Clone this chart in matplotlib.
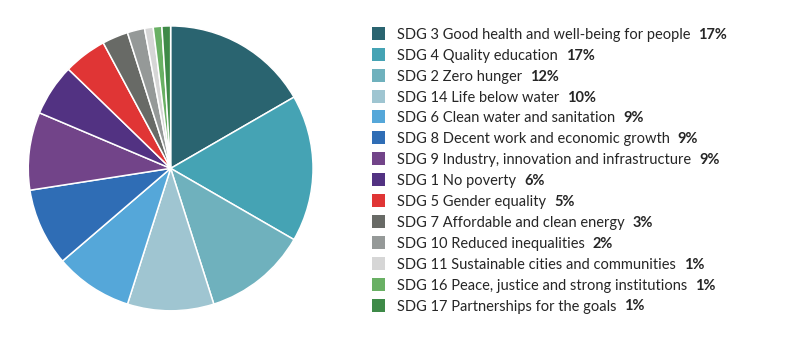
import matplotlib.pyplot as plt
from matplotlib.patches import Rectangle

labels = [
    "SDG 3 Good health and well-being for people",
    "SDG 4 Quality education",
    "SDG 2 Zero hunger",
    "SDG 14 Life below water",
    "SDG 6 Clean water and sanitation",
    "SDG 8 Decent work and economic growth",
    "SDG 9 Industry, innovation and infrastructure",
    "SDG 1 No poverty",
    "SDG 5 Gender equality",
    "SDG 7 Affordable and clean energy",
    "SDG 10 Reduced inequalities",
    "SDG 11 Sustainable cities and communities",
    "SDG 16 Peace, justice and strong institutions",
    "SDG 17 Partnerships for the goals",
]
shares = [17, 17, 12, 10, 9, 9, 9, 6, 5, 3, 2, 1, 1, 1]
colors = [
    "#2a6470", "#45a3b4", "#6fb1bd", "#9fc5d1", "#55a7d9", "#2f6db5", "#724489",
    "#523282", "#e03535", "#686a66", "#959998", "#d6d6d6", "#69b064", "#3e8a48",
]

plt.rcParams['font.family'] = ['Lato', 'DejaVu Sans']
fig = plt.figure(figsize=(8, 3.42), dpi=100)

# pie on the left, clockwise from 12 o'clock
ax = fig.add_axes([0.0353, 0.0912, 0.356, 0.833])
ax.pie(shares, colors=colors, startangle=90, counterclock=False, radius=1,
       wedgeprops={'edgecolor': 'white', 'linewidth': 1.1})
ax.set_xlim(-1, 1)
ax.set_ylim(-1, 1)
ax.set_aspect('auto')
ax.axis('off')

# hand-built legend: swatch, label, bold percentage
W, H = 800, 342
top, step = 33.3, 20.9
txt_color = "#262626"
fig.canvas.draw()
renderer = fig.canvas.get_renderer()
for i, (lab, val, col) in enumerate(zip(labels, shares, colors)):
    yc = top + i * step
    fig.patches.append(Rectangle((372 / W, (H - yc - 6.5) / H), 13 / W, 13 / H,
                                 transform=fig.transFigure, facecolor=col,
                                 edgecolor='none'))
    t = fig.text(397 / W, (H - yc) / H, lab, fontsize=10.5, color=txt_color,
                 va='center_baseline', ha='left')
    bb = t.get_window_extent(renderer=renderer)
    fig.text((bb.x1 + 8) / W, (H - yc) / H, f"{val}%", fontsize=10.5,
             fontweight='bold', color=txt_color, va='center_baseline', ha='left')

fig.savefig("out.png", dpi=100, facecolor='white')
